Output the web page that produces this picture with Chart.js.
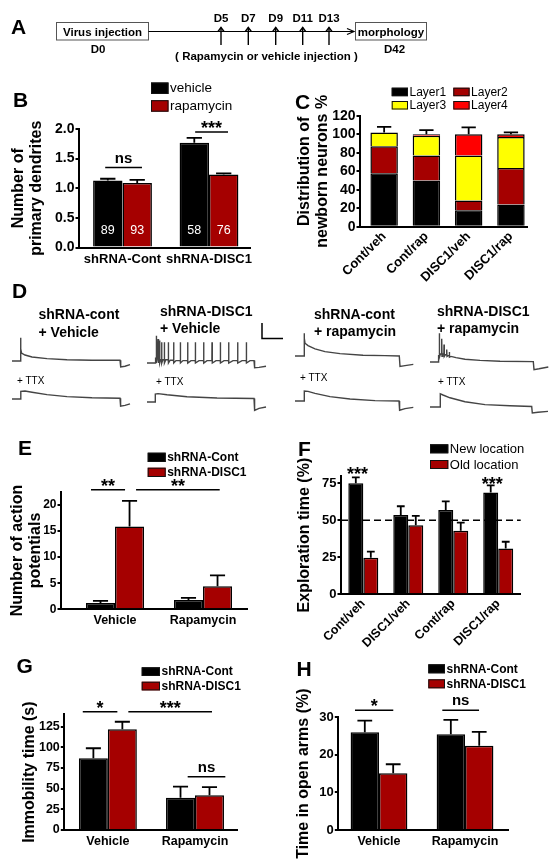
<!DOCTYPE html>
<html>
<head>
<meta charset="utf-8">
<title>DISC1 / rapamycin figure</title>
<script src="https://cdn.jsdelivr.net/npm/chart.js@4.4.1/dist/chart.umd.min.js"></script>
<style>
html,body{margin:0;padding:0;background:#fff;}
body{position:relative;width:559px;height:863px;overflow:hidden;font-family:"Liberation Sans",Arial,Helvetica,sans-serif;-webkit-font-smoothing:antialiased;}
canvas{position:absolute;}
svg{position:absolute;left:0;top:0;will-change:transform;}
svg text{font-family:"Liberation Sans",Arial,Helvetica,sans-serif;fill:#000;}
</style>
</head>
<body>
<svg width="559" height="863">
  <!-- Panel A: timeline -->
  <text x="11" y="33.5" font-size="21" font-weight="bold">A</text>
  <rect x="56.5" y="22.5" width="92" height="17.5" fill="#fff" stroke="#555" stroke-width="1"/>
  <text x="102.5" y="35.5" font-size="11.5" font-weight="bold" text-anchor="middle">Virus injection</text>
  <line x1="148.5" y1="31.5" x2="353" y2="31.5" stroke="#000" stroke-width="1.2"/>
  <polyline points="347,28.5 354,31.5 347,34.5" fill="none" stroke="#000" stroke-width="1.2"/>
  <rect x="355.5" y="22.5" width="71" height="17.5" fill="#fff" stroke="#555" stroke-width="1"/>
  <text x="391" y="35.5" font-size="11.5" font-weight="bold" text-anchor="middle">morphology</text>
  <g stroke="#000" stroke-width="1.4" fill="none">
    <line x1="221" y1="45" x2="221" y2="27.5"/><polyline points="218,31.5 221,27.5 224,31.5"/>
    <line x1="248.3" y1="45" x2="248.3" y2="27.5"/><polyline points="245.3,31.5 248.3,27.5 251.3,31.5"/>
    <line x1="275.7" y1="45" x2="275.7" y2="27.5"/><polyline points="272.7,31.5 275.7,27.5 278.7,31.5"/>
    <line x1="302.7" y1="45" x2="302.7" y2="27.5"/><polyline points="299.7,31.5 302.7,27.5 305.7,31.5"/>
    <line x1="329" y1="45" x2="329" y2="27.5"/><polyline points="326,31.5 329,27.5 332,31.5"/>
  </g>
  <g font-size="11.5" font-weight="bold" text-anchor="middle">
    <text x="221" y="21.5">D5</text>
    <text x="248.3" y="21.5">D7</text>
    <text x="275.7" y="21.5">D9</text>
    <text x="302.7" y="21.5">D11</text>
    <text x="329" y="21.5">D13</text>
    <text x="98" y="53">D0</text>
    <text x="394.5" y="53">D42</text>
    <text x="266.5" y="60">( Rapamycin or vehicle injection )</text>
  </g>
  <!-- panel letters -->
  <g font-size="21" font-weight="bold">
    <text x="13" y="106.5">B</text>
    <text x="295" y="108.5">C</text>
    <text x="12" y="298">D</text>
    <text x="18" y="455">E</text>
    <text x="298" y="456">F</text>
    <text x="16.5" y="673">G</text>
    <text x="296.5" y="675.5">H</text>
  </g>
  <!-- Panel D titles -->
  <g font-size="14" font-weight="bold">
    <text x="38.5" y="319">shRNA-cont</text>
    <text x="38.5" y="337">+ Vehicle</text>
    <text x="160" y="316">shRNA-DISC1</text>
    <text x="160" y="333">+ Vehicle</text>
    <text x="314" y="319">shRNA-cont</text>
    <text x="314" y="336">+ rapamycin</text>
    <text x="437" y="316">shRNA-DISC1</text>
    <text x="437" y="333">+ rapamycin</text>
  </g>
  <g font-size="10" fill="#000">
    <text x="17" y="383.5" fill="#000">+ TTX</text>
    <text x="156" y="385" fill="#000">+ TTX</text>
    <text x="300" y="381" fill="#000">+ TTX</text>
    <text x="438" y="385" fill="#000">+ TTX</text>
  </g>
  <path d="M262,323 L262,338.5 L283,338.5" fill="none" stroke="#000" stroke-width="1.5"/>
</svg>
<script>
// ================= DATA =================
// Panel B: number of primary dendrites
const bCategories = ['shRNA-Cont', 'shRNA-DISC1'];
const bTicks = [0, 0.5, 1.0, 1.5, 2.0];
const bVehicle = [1.13, 1.77];
const bVehicleErr = [0.03, 0.08];
const bRapamycin = [1.09, 1.23];
const bRapamycinErr = [0.05, 0.02];
const bCellsVehicle = [89, 58];
const bCellsRapamycin = [93, 76];

// Panel C: layer distribution (%)
const cCategories = ['Cont/veh', 'Cont/rap', 'DISC1/veh', 'DISC1/rap'];
const cTicks = [0, 20, 40, 60, 80, 100, 120];
const cLayer1 = [58, 50, 18, 24];
const cLayer2 = [29, 27, 10.5, 39.5];
const cLayer3 = [15, 21.5, 48.5, 33.5];
const cLayer4 = [0, 1.5, 23, 3];
const cTotalErr = [6, 4.6, 7.5, 2];

// Panel D: membrane potential traces [time ms, mV]
const dContVehAP = [[0,-70],[85,-70],[86,-61],[87,-41],[89,-55],[95,-60],[130,-62.5],[200,-65],[350,-67],[550,-68.5],[800,-69],[1080,-69],[1087,-77.5],[1130,-76.5],[1180,-74.5]];
const dContVehTTX = [[0,-70],[85,-70],[88,-60.5],[130,-60],[200,-61.5],[350,-64.5],[550,-67],[800,-68.5],[1080,-69],[1086,-79],[1130,-78],[1180,-76]];
const dDiscVehAP = [[0,-70],[83,-70],[86,-64],
  [92,-64],[93,-36],[96,-70],[100,-66],
  [109,-66],[110,-40],[113,-70],[118,-66],
  [125,-66],[126,-42],[129,-70],[136,-66],
  [145,-66],[146,-44],[149,-70],[158,-66],
  [172,-66],[173,-44],[176,-70],[188,-66],
  [212,-66],[213,-44],[216,-70],[232,-66.5],
  [265,-66.5],[266,-44],[269,-70],[290,-67],
  [332,-67],[333,-44],[336,-70],[360,-67],
  [405,-67],[406,-44],[409,-70],[440,-67],
  [482,-67],[483,-44],[486,-70],[520,-67],
  [565,-67],[566,-44],[569,-70],[600,-67],
  [649,-67],[650,-44],[653,-70],[690,-67],
  [732,-67],[733,-44],[736,-70],[770,-67],
  [815,-67],[816,-44],[819,-70],[860,-67],
  [905,-67],[906,-44],[909,-70],[950,-67],
  [992,-67],[993,-44],[996,-70],[1030,-67],
  [1070,-67],[1076,-76],[1120,-75.5],[1190,-74]];
const dDiscVehTTX = [[0,-70],[80,-70],[83,-60],[110,-59.5],[200,-61],[400,-63.5],[700,-65],[1070,-65.7],[1076,-80.4],[1120,-78],[1190,-76.3]];
const dContRapAP = [[0,-70],[90,-70],[92,-41.5],[94,-48],[100,-54],[130,-57],[200,-61],[300,-64.5],[450,-67],[680,-69],[900,-69.5],[1043,-70],[1050,-83],[1100,-82],[1183,-80.5]];
const dContRapTTX = [[0,-70],[90,-70],[93,-57.5],[130,-58],[200,-60.5],[350,-64.5],[550,-67.5],[800,-69.5],[1040,-70],[1046,-81.5],[1100,-79.5],[1183,-78]];
const dDiscRapAP = [[0,-70],[83,-70],[86,-62],[92,-62],[93,-34],[96,-64],[104,-60],[116,-60],[117,-41],[120,-63],[128,-60],[139,-60],[140,-48],[143,-63],[152,-61],[166,-61],[167,-54.5],[170,-63],[180,-62],[192,-62],[193,-57.5],[196,-64],[210,-63],[260,-64.5],[350,-66.5],[500,-68],[700,-69],[1033,-69.5],[1040,-79.5],[1090,-78.5],[1183,-76.3]];
const dDiscRapTTX = [[0,-70],[100,-70],[103,-53.5],[130,-55],[200,-58.5],[350,-63.5],[550,-67],[800,-68.5],[1017,-69.3],[1023,-77.5],[1080,-76.5],[1180,-75.5]];

// Panel E: number of action potentials
const eGroups = ['Vehicle', 'Rapamycin'];
const eTicks = [0, 5, 10, 15, 20];
const eCont = [1.2, 1.8];
const eContErr = [0.4, 0.4];
const eDisc1 = [15.9, 4.4];
const eDisc1Err = [4.9, 2.1];

// Panel F: exploration time (%)
const fGroups = ['Cont/veh', 'DISC1/veh', 'Cont/rap', 'DISC1/rap'];
const fTicks = [0, 25, 50, 75];
const fNew = [75, 53.6, 57, 68.7];
const fNewErr = [4, 5.9, 5.8, 4.9];
const fOld = [24.7, 46.6, 43, 31];
const fOldErr = [4.1, 6.4, 5.4, 4.5];
const fChance = 50;

// Panel G: immobility time (s)
const gGroups = ['Vehicle', 'Rapamycin'];
const gTicks = [0, 25, 50, 75, 100, 125];
const gCont = [86.8, 39];
const gContErr = [12.1, 13.4];
const gDisc1 = [121.9, 42];
const gDisc1Err = [9.1, 10];

// Panel H: time in open arms (%)
const hGroups = ['Vehicle', 'Rapamycin'];
const hTicks = [0, 10, 20, 30];
const hCont = [26.0, 25.5];
const hContErr = [3.1, 3.8];
const hDisc1 = [15.1, 22.4];
const hDisc1Err = [2.4, 3.7];

// ================= RENDERING =================
const FONT = '"Liberation Sans", Arial, Helvetica, sans-serif';
Chart.defaults.font.family = FONT;
Chart.defaults.color = '#000';
Chart.defaults.animation = false;
const DARKRED = '#a50000', BLACK = '#000000', YELLOW = '#ffff00', BRIGHTRED = '#ff0000';

function mkCanvas(x, y, w, h) {
  const c = document.createElement('canvas');
  c.width = Math.round(w); c.height = Math.round(h);
  c.style.left = Math.round(x) + 'px'; c.style.top = Math.round(y) + 'px';
  document.body.appendChild(c);
  return c;
}

const decor = {
  id: 'decor',
  beforeDatasetsDraw(chart, args, o) {
    if (o.refLine == null) return;
    const ctx = chart.ctx, ca = chart.chartArea;
    const y = chart.scales.y.getPixelForValue(o.refLine);
    ctx.save();
    ctx.setLineDash([7, 4]); ctx.lineWidth = 1.5; ctx.strokeStyle = '#000';
    ctx.beginPath(); ctx.moveTo(ca.left, y); ctx.lineTo(ca.right, y); ctx.stroke();
    ctx.restore();
  },
  afterDatasetsDraw(chart, args, o) {
    const ctx = chart.ctx, ys = chart.scales.y;
    ctx.save();
    chart.data.datasets.forEach((ds, di) => {
      const meta = chart.getDatasetMeta(di);
      meta.data.forEach((bar, i) => {
        if (ds.errors && ds.errors[i]) {
          const h = ys.getPixelForValue(0) - ys.getPixelForValue(ds.errors[i]);
          const x = bar.x, y0 = bar.y, y1 = bar.y - h, cw = bar.width * 0.52;
          ctx.strokeStyle = '#000'; ctx.lineWidth = 1.8; ctx.setLineDash([]);
          ctx.beginPath();
          ctx.moveTo(x, y0); ctx.lineTo(x, y1);
          ctx.moveTo(x - cw / 2, y1); ctx.lineTo(x + cw / 2, y1);
          ctx.stroke();
        }
        if (ds.counts) {
          ctx.fillStyle = '#fff'; ctx.font = '12.5px ' + FONT;
          ctx.textAlign = 'center'; ctx.textBaseline = 'middle';
          ctx.fillText(String(ds.counts[i]), bar.x, ys.getPixelForValue(0) - 17);
        }
      });
    });
    ctx.restore();
  },
  afterDraw(chart, args, o) {
    const ctx = chart.ctx, xs = chart.scales.x, ys = chart.scales.y;
    ctx.save();
    if (o.legend) {
      const L = o.legend;
      chart.data.datasets.forEach((ds, i) => {
        const col = i % (L.cols || 1), row = Math.floor(i / (L.cols || 1));
        const bx = L.x - o.ox + col * (L.colW || 0), by = L.y - o.oy + row * L.rowH;
        ctx.fillStyle = ds.backgroundColor; ctx.fillRect(bx, by, L.boxW, L.boxH);
        ctx.strokeStyle = '#111'; ctx.lineWidth = 1; ctx.strokeRect(bx + 0.5, by + 0.5, L.boxW - 1, L.boxH - 1);
        ctx.fillStyle = '#000'; ctx.font = L.font; ctx.textAlign = 'left'; ctx.textBaseline = 'middle';
        ctx.fillText(ds.label, bx + L.boxW + 1.5, by + L.boxH / 2 + 0.5);
      });
    }
    const drawLabel = (text, x, y) => {
      ctx.fillStyle = '#000'; ctx.textAlign = 'center'; ctx.textBaseline = 'alphabetic';
      if (text.indexOf('*') >= 0) { ctx.font = 'bold 18px ' + FONT; ctx.fillText(text, x, y + 2); }
      else { ctx.font = 'bold 15px ' + FONT; ctx.fillText(text, x, y - 5); }
    };
    (o.brackets || []).forEach(b => {
      const x1 = xs.getPixelForValue(b.x1), x2 = xs.getPixelForValue(b.x2), y = ys.getPixelForValue(b.y);
      ctx.strokeStyle = '#000'; ctx.lineWidth = 1.5;
      ctx.beginPath(); ctx.moveTo(x1, y); ctx.lineTo(x2, y); ctx.stroke();
      drawLabel(b.text, (x1 + x2) / 2, y);
    });
    (o.texts || []).forEach(t => drawLabel(t.text, xs.getPixelForValue(t.x), ys.getPixelForValue(t.y)));
    ctx.restore();
  }
};

function barPanel(cfg) {
  const box = cfg.box, plot = cfg.plot;
  const cv = mkCanvas(box.x, box.y, box.w, box.h);
  const lh = 18;
  const padL = cfg.titleX - box.x - lh / 2;
  const yW = plot.L - box.x - padL;
  const padB = box.y + box.h - plot.B - cfg.xH;
  const tickSize = cfg.tickSize || 13;
  new Chart(cv, {
    type: 'bar',
    data: {
      datasets: cfg.series.map(s => ({
        label: s.label,
        data: s.values.map((v, i) => ({x: i, y: v})),
        errors: s.errors, counts: s.counts,
        backgroundColor: s.color, borderColor: '#000', borderWidth: 1.5, borderSkipped: 'start',
        categoryPercentage: cfg.catPct, barPercentage: 1
      }))
    },
    options: {
      responsive: false, animation: false, events: [],
      layout: {padding: {left: padL, top: plot.T - box.y, right: box.x + box.w - plot.R, bottom: padB}},
      plugins: {legend: {display: false}, tooltip: {enabled: false},
        decor: Object.assign({ox: box.x, oy: box.y}, cfg.decor)},
      scales: {
        x: {
          type: 'linear', min: cfg.xMin, max: cfg.xMax, offset: false, stacked: !!cfg.stacked,
          afterBuildTicks: s => { s.ticks = cfg.categories.map((c, i) => ({value: i})); },
          ticks: {autoSkip: false, color: '#000', padding: cfg.xPad == null ? 4 : cfg.xPad,
            font: {size: cfg.xSize || 12.5, weight: 'bold'}, minRotation: cfg.rot || 0, maxRotation: cfg.rot || 0,
            callback: v => (cfg.categories[v] !== undefined ? cfg.categories[v] : '')},
          grid: {display: false, drawTicks: false},
          border: {display: true, color: '#000', width: 2},
          afterFit: s => { s.height = cfg.xH; }
        },
        y: {
          type: 'linear', min: 0, max: cfg.yMax, stacked: !!cfg.stacked,
          afterBuildTicks: s => { s.ticks = cfg.yTicks.map(v => ({value: v})); },
          ticks: {autoSkip: false, color: '#000', padding: 1, font: {size: tickSize, weight: 'bold'},
            callback: cfg.yFmt || (v => String(v))},
          grid: {display: true, drawOnChartArea: false, drawTicks: true, tickLength: 3.5, color: '#000', lineWidth: 2},
          border: {display: true, color: '#000', width: 2},
          title: {display: true, text: cfg.yTitle, color: '#000', padding: 0,
            font: {size: 16, weight: 'bold', lineHeight: lh / 16}},
          afterFit: s => { s.width = yW; }
        }
      }
    },
    plugins: [decor]
  });
}

// Panel B
barPanel({
  box: {x: 0, y: 75, w: 275, h: 200}, plot: {L: 79, T: 129, R: 250, B: 247.5},
  titleX: 19, xH: 25, xMin: -0.503, xMax: 1.474, catPct: 0.68, tickSize: 14, xSize: 13,
  categories: bCategories, yTicks: bTicks, yMax: 2.0, yFmt: v => v.toFixed(1),
  yTitle: ['Number of', 'primary dendrites'],
  series: [
    {label: 'vehicle', values: bVehicle, errors: bVehicleErr, counts: bCellsVehicle, color: BLACK},
    {label: 'rapamycin', values: bRapamycin, errors: bRapamycinErr, counts: bCellsRapamycin, color: DARKRED}
  ],
  decor: {
    legend: {x: 151, y: 82.5, boxW: 17.5, boxH: 11.5, rowH: 17.7, cols: 1, font: '13.5px ' + FONT},
    brackets: [{x1: -0.2, x2: 0.225, y: 1.35, text: 'ns'}, {x1: 0.84, x2: 1.22, y: 1.95, text: '***'}]
  }
});

// Panel C
barPanel({
  box: {x: 280, y: 75, w: 279, h: 215}, plot: {L: 360, T: 115.8, R: 527, B: 226.8},
  titleX: 305, xH: 60, xMin: -0.571, xMax: 3.38, catPct: 0.65, stacked: true, rot: 45, xPad: 2,
  tickSize: 14, xSize: 13,
  categories: cCategories, yTicks: cTicks, yMax: 120,
  yTitle: ['Distribution of', 'newborn neurons %'],
  series: [
    {label: 'Layer1', values: cLayer1, color: BLACK},
    {label: 'Layer2', values: cLayer2, color: DARKRED},
    {label: 'Layer3', values: cLayer3, color: YELLOW},
    {label: 'Layer4', values: cLayer4, errors: cTotalErr, color: BRIGHTRED}
  ],
  decor: {legend: {x: 391.7, y: 87.7, boxW: 16.3, boxH: 8.5, rowH: 13.3, cols: 2, colW: 61.6, font: '12px ' + FONT}}
});

// Panel E
barPanel({
  box: {x: 0, y: 430, w: 280, h: 205}, plot: {L: 61, T: 491.7, R: 247, B: 609.3},
  titleX: 18, xH: 22, xMin: -0.614, xMax: 1.5, catPct: 0.66, tickSize: 12,
  categories: eGroups, yTicks: eTicks, yMax: 22.55,
  yTitle: ['Number of action', 'potentials'],
  series: [
    {label: 'shRNA-Cont', values: eCont, errors: eContErr, color: BLACK},
    {label: 'shRNA-DISC1', values: eDisc1, errors: eDisc1Err, color: DARKRED}
  ],
  decor: {
    legend: {x: 147.7, y: 452.7, boxW: 18, boxH: 9.3, rowH: 15, cols: 1, font: 'bold 12px ' + FONT},
    brackets: [{x1: -0.273, x2: 0.114, y: 22.9, text: '**'}, {x1: 0.239, x2: 1.19, y: 22.9, text: '**'}]
  }
});

// Panel F
barPanel({
  box: {x: 280, y: 430, w: 279, h: 235}, plot: {L: 341, T: 475.9, R: 520.7, B: 594.3},
  titleX: 305, xH: 65, xMin: -0.496, xMax: 3.5, catPct: 0.667, rot: 45, xPad: 2, tickSize: 13,
  categories: fGroups, yTicks: fTicks, yMax: 80,
  yTitle: 'Exploration time (%)',
  series: [
    {label: 'New location', values: fNew, errors: fNewErr, color: BLACK},
    {label: 'Old location', values: fOld, errors: fOldErr, color: DARKRED}
  ],
  decor: {
    refLine: fChance,
    legend: {x: 430, y: 444.3, boxW: 18.3, boxH: 9, rowH: 15.7, cols: 1, font: '13px ' + FONT},
    texts: [{x: -0.13, y: 78.7, text: '***'}, {x: 2.87, y: 72, text: '***'}]
  }
});

// Panel G
barPanel({
  box: {x: 0, y: 650, w: 280, h: 213}, plot: {L: 64.3, T: 714.3, R: 237.7, B: 830},
  titleX: 30, xH: 25, xMin: -0.5, xMax: 1.49, catPct: 0.665, tickSize: 12.5,
  categories: gGroups, yTicks: gTicks, yMax: 140,
  yTitle: 'Immobility time (s)',
  series: [
    {label: 'shRNA-Cont', values: gCont, errors: gContErr, color: BLACK},
    {label: 'shRNA-DISC1', values: gDisc1, errors: gDisc1Err, color: DARKRED}
  ],
  decor: {
    legend: {x: 141.7, y: 667.3, boxW: 18.3, boxH: 8.7, rowH: 14.4, cols: 1, font: 'bold 12px ' + FONT},
    brackets: [{x1: -0.288, x2: 0.109, y: 143.2, text: '*'}, {x1: 0.235, x2: 1.195, y: 143.2, text: '***'},
               {x1: 0.916, x2: 1.348, y: 64.5, text: 'ns'}]
  }
});

// Panel H
barPanel({
  box: {x: 280, y: 650, w: 279, h: 213}, plot: {L: 338.3, T: 717.3, R: 508.3, B: 830},
  titleX: 304, xH: 25, xMin: -0.473, xMax: 1.503, catPct: 0.66, tickSize: 13,
  categories: hGroups, yTicks: hTicks, yMax: 30,
  yTitle: 'Time in open arms (%)',
  series: [
    {label: 'shRNA-Cont', values: hCont, errors: hContErr, color: BLACK},
    {label: 'shRNA-DISC1', values: hDisc1, errors: hDisc1Err, color: DARKRED}
  ],
  decor: {
    legend: {x: 428.3, y: 664.3, boxW: 16.7, boxH: 9, rowH: 15, cols: 1, font: 'bold 12px ' + FONT},
    brackets: [{x1: -0.279, x2: 0.166, y: 31.9, text: '*'}, {x1: 0.736, x2: 1.163, y: 31.9, text: 'ns'}]
  }
});

// Panel D traces (0.1 px per ms, 0.8 px per mV)
function traceChart(x, baselineY, pts) {
  const cv = mkCanvas(x, baselineY - 32, 120, 48);
  new Chart(cv, {
    type: 'line',
    data: {datasets: [{data: pts.map(p => ({x: p[0], y: p[1]})), borderColor: '#444', borderWidth: 1.4,
      pointRadius: 0, tension: 0, fill: false}]},
    options: {responsive: false, animation: false, events: [],
      plugins: {legend: {display: false}, tooltip: {enabled: false}},
      scales: {x: {type: 'linear', display: false, min: 0, max: 1200},
               y: {type: 'linear', display: false, min: -90, max: -30}}}
  });
}
traceChart(12, 360.7, dContVehAP);
traceChart(12, 399.3, dContVehTTX);
traceChart(147, 363.3, dDiscVehAP);
traceChart(147, 401.7, dDiscVehTTX);
traceChart(295, 356, dContRapAP);
traceChart(295, 401, dContRapTTX);
traceChart(430, 362.3, dDiscRapAP);
traceChart(430, 407.3, dDiscRapTTX);
</script>
</body>
</html>
